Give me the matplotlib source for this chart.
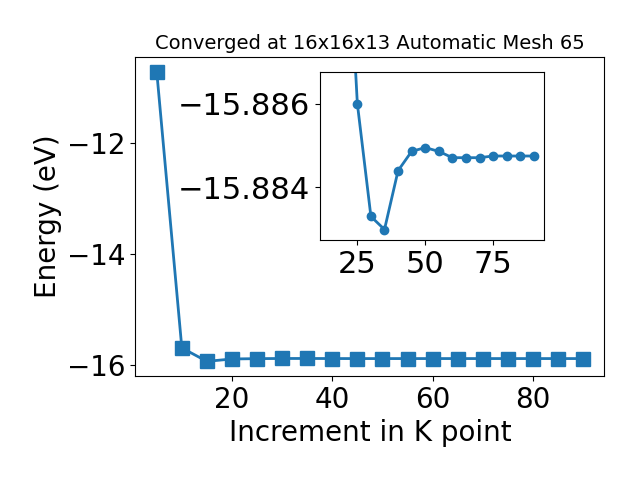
import numpy as np
import matplotlib.pyplot as plt

kpoints = np.arange(5, 95, 5)
energy = np.array([-10.706, -15.693, -15.935, -15.892, -15.88600, -15.88331,
                   -15.88300, -15.88440, -15.88486, -15.88495, -15.88486,
                   -15.88471, -15.88471, -15.88471, -15.88475, -15.88475,
                   -15.88475, -15.88475])

fig = plt.figure(figsize=(6.4, 4.8), dpi=100)
ax = fig.add_axes([0.2116, 0.217, 0.7329, 0.664])
ax.plot(kpoints, energy, 's-', markersize=10, linewidth=2)
ax.set_xlabel("Increment in K point", fontsize=20)
ax.set_ylabel("Energy (eV)", fontsize=20)
ax.set_title("Converged at 16x16x13 Automatic Mesh 65", fontsize=14)
ax.tick_params(labelsize=20)

# inset zoomed on convergence
ins = fig.add_axes([0.5, 0.5, 0.35, 0.35])
ins.plot(kpoints[2:], energy[2:], 'o-', markersize=6, linewidth=2)
ins.set_ylim(-15.88275, -15.88675)
ins.set_xticks([25, 50, 75])
ins.set_yticks([-15.886, -15.884])
ins.ticklabel_format(axis='y', useOffset=False)
ins.tick_params(labelsize=22)

plt.savefig("out.png")
